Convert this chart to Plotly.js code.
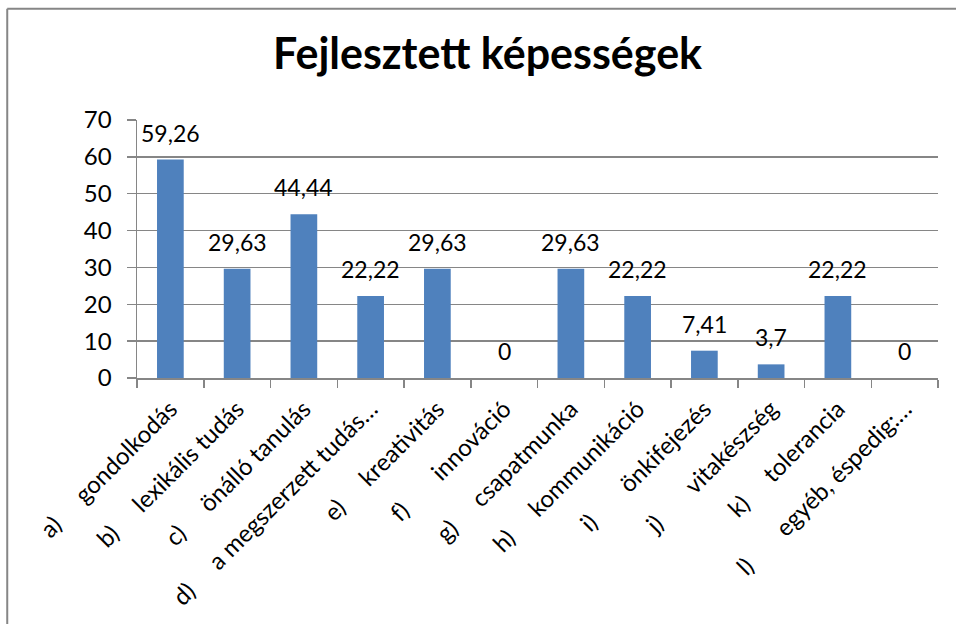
<!DOCTYPE html>
<html>
<head>
<meta charset="utf-8">
<script src="https://cdn.plot.ly/plotly-3.0.1.min.js"></script>
<style>html,body{margin:0;padding:0;background:#fff;}#chart{width:956px;height:624px;}</style>
</head>
<body>
<div id="chart"></div>
<script>
var letters = ["a)", "b)", "c)", "d)", "e)", "f)", "g)", "h)", "i)", "j)", "k)", "l)"];
var names = ["gondolkodás", "lexikális tudás", "önálló tanulás", "a megszerzett tudás…", "kreativitás", "innováció", "csapatmunka", "kommunikáció", "önkifejezés", "vitakészség", "tolerancia", "egyéb, éspedig:…"];
var values = [59.26, 29.63, 44.44, 22.22, 29.63, 0, 29.63, 22.22, 7.41, 3.7, 22.22, 0];
var valueLabels = ["59,26", "29,63", "44,44", "22,22", "29,63", "0", "29,63", "22,22", "7,41", "3,7", "22,22", "0"];
var yTicks = [0, 10, 20, 30, 40, 50, 60, 70];

var NB = "\u00a0";
var categories = letters.map(function (l, i) {
  var pad = (l === "i)" || l === "j)" || l === "l)" || l === "f)") ? 7 : 5;
  return l + NB.repeat(pad) + names[i];
});

var FONT = "Lato, 'Open Sans', sans-serif";

var trace = {
  type: "bar",
  x: categories,
  y: values,
  marker: {color: "#4F81BD"},
  hoverinfo: "none"
};

var annotations = categories.map(function (c, i) {
  return {
    x: c, y: values[i], xref: "x", yref: "y",
    text: valueLabels[i], showarrow: false,
    yanchor: "bottom", yshift: 11,
    font: {family: FONT, size: 23, color: "#000"}
  };
});

var layout = {
  width: 956, height: 624,
  margin: {l: 137, r: 18, t: 120, b: 246},
  paper_bgcolor: "#fff", plot_bgcolor: "#fff",
  showlegend: false,
  bargap: 0.6,
  title: {
    text: "<b>Fejlesztett képességek</b>",
    font: {family: FONT, size: 43, color: "#000"},
    x: 0.51, xanchor: "center", y: 0.913, yanchor: "middle"
  },
  xaxis: {
    type: "category",
    tickangle: -45,
    tickson: "boundaries",
    ticks: "outside", ticklen: 8, tickcolor: "#868686", tickwidth: 1.5,
    showline: true, linecolor: "#868686", linewidth: 1.5,
    showgrid: false,
    tickfont: {family: FONT, size: 24, color: "#000"},
    ticklabelstandoff: 6,
    fixedrange: true
  },
  yaxis: {
    range: [0, 70],
    tickvals: yTicks,
    ticktext: yTicks.map(String),
    ticks: "outside", ticklen: 9, tickcolor: "#868686", tickwidth: 1.5,
    showline: true, linecolor: "#868686", linewidth: 1.5,
    showgrid: true, gridcolor: "#868686", gridwidth: 1.5,
    zeroline: false,
    tickfont: {family: FONT, size: 24, color: "#000"},
    ticklabelstandoff: 10,
    fixedrange: true
  },
  annotations: annotations,
  shapes: [
    {type: "line", xref: "paper", yref: "paper", x0: -0.162, x1: 1.03, y0: 1.431, y1: 1.431, line: {color: "#868686", width: 2}},
    {type: "line", xref: "paper", yref: "paper", x0: -0.162, x1: -0.162, y0: 1.431, y1: -1.0, line: {color: "#868686", width: 2}}
  ]
};

Plotly.newPlot("chart", [trace], layout, {displayModeBar: false, staticPlot: true});
</script>
</body>
</html>
